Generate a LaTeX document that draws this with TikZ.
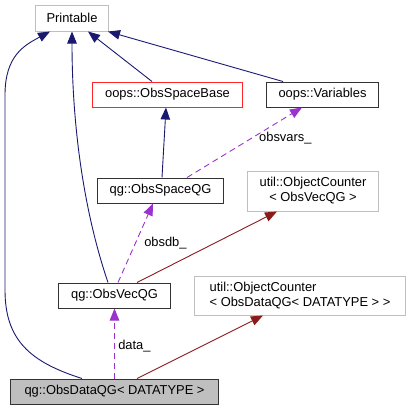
\documentclass[tikz,border=0pt]{standalone}
\usepackage{fontspec}
\setmainfont{Liberation Sans}
\usetikzlibrary{arrows.meta}
\definecolor{inhblue}{HTML}{191970}
\definecolor{usepurple}{HTML}{9A32CD}
\definecolor{tmplred}{HTML}{8B1A1A}
\definecolor{boxgray}{HTML}{BFBFBF}
\begin{document}
\begin{tikzpicture}[x=1bp, y=-1bp, >={Triangle[length=12bp,width=9.5bp]},
        main/.style = {draw=black!80, line width=1bp, inner sep=0pt, minimum height=25bp, font=\fontsize{12.9bp}{15bp}\selectfont},
        faded/.style = {main, draw=boxgray},
        basecls/.style = {main, draw=red!85},
        self/.style = {main, fill=boxgray},
        inh/.style = {draw=inhblue, line width=0.9bp},
        use/.style = {draw=usepurple, line width=0.9bp, dash pattern=on 6bp off 4bp},
        tmpl/.style = {draw=tmplred, line width=0.9bp},
        lbl/.style = {font=\fontsize{12.9bp}{15bp}\selectfont, text=black}]
        \useasboundingbox (0,0) rectangle (411,411);
        \node[faded, minimum width=73bp, minimum height=26bp] (1) at (72,18) {Printable};
        \node[basecls, minimum width=149bp] (2) at (167.5,94.5) {oops::ObsSpaceBase};
        \node[main, minimum width=111bp] (3) at (322.5,94.5) {oops::Variables};
        \node[main, minimum width=125bp] (4) at (160.5,190.5) {qg::ObsSpaceQG};
        \node[faded, minimum width=130bp, minimum height=40bp, align=center] (5) at (313,191) {util::ObjectCounter\\< ObsVecQG >};
        \node[main, minimum width=111bp] (6) at (114.5,295.5) {qg::ObsVecQG};
        \node[faded, minimum width=210bp, minimum height=39bp, align=left] (7) at (300,295.5) {util::ObjectCounter\\< ObsDataQG< DATATYPE > >};
        \node[self, minimum width=207bp] (8) at (114.5,391.5) {qg::ObsDataQG< DATATYPE >};
        \draw[inh, ->] ([xshift=-32.5bp]8.north) .. controls (30,362) and (5,340) .. (5,290) -- (5,95) .. controls (5,55) and (25,45) .. ([xshift=-22bp]1.south);
        \draw[inh, ->] ([xshift=-6.5bp]6.north) .. controls (80,200) and (72,110) .. (1.south);
        \draw[inh, ->] ([xshift=-15.5bp]2.north) -- ([xshift=16bp]1.south);
        \draw[inh, ->] ([xshift=-39.5bp]3.north) -- ([xshift=-1bp]1.south east);
        \draw[inh, ->] ([xshift=1.5bp]4.north) -- ([xshift=-1.5bp]2.south);
        \draw[use, ->] ([xshift=26.5bp]4.north) -- node[lbl, pos=0.56, right, xshift=4bp] {obsvars\_} ([xshift=-20.5bp]3.south);
        \draw[use, ->] ([xshift=3.5bp]6.north) -- node[lbl, midway, right, xshift=5bp] {obsdb\_} ([xshift=-7.5bp]4.south);
        \draw[tmpl, ->] ([xshift=22.5bp]6.north) -- ([xshift=-36bp]5.south);
        \draw[use, ->] (8.north) -- node[lbl, midway, right, yshift=-3bp] {data\_} (6.south);
        \draw[tmpl, ->] ([xshift=22.5bp]8.north) -- ([xshift=-37bp]7.south);
\end{tikzpicture}
\end{document}
